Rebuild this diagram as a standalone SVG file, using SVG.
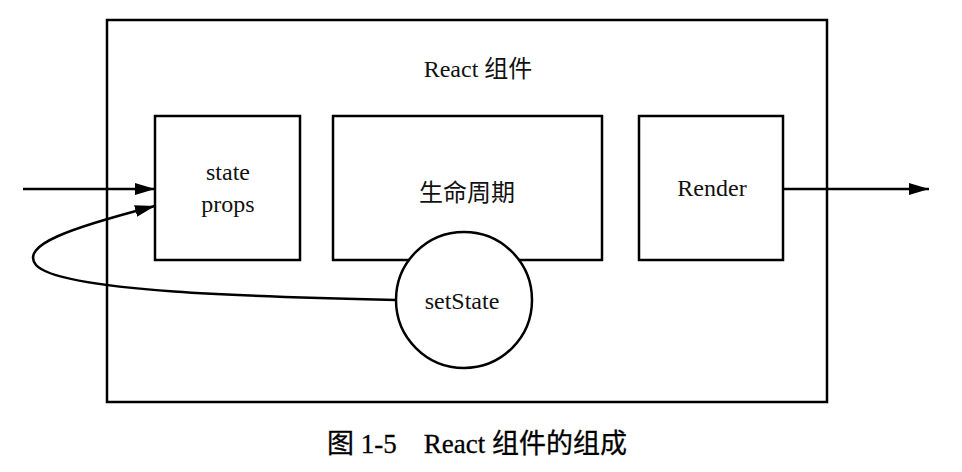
<svg xmlns="http://www.w3.org/2000/svg" width="962" height="472" viewBox="0 0 962 472">
<defs>
<marker id="arrB" viewBox="0 0 20 12" refX="20" refY="6" markerWidth="20" markerHeight="12" markerUnits="userSpaceOnUse" orient="auto">
<path d="M0,0 L20,6 L0,12 Z" fill="#000"/>
</marker>
</defs>
<style>
.box{fill:#fff;stroke:#000;stroke-width:2.5}
.t{font-family:"Liberation Serif","Noto Sans CJK SC",serif;font-size:24px;fill:#111;text-anchor:middle}
.cap{font-size:27px;fill:#000;stroke:#000;stroke-width:0.3}
.c{fill:none;stroke:#000;stroke-width:2.5}
</style>
<rect width="962" height="472" fill="#fff"/>
<g id="react-component">
<rect class="box" x="107" y="20" width="720" height="382"/>
<text class="t" x="478" y="77">React 组件</text>
</g>
<g id="connectors">
<line class="c" x1="23" y1="189" x2="155" y2="189" marker-end="url(#arrB)"/>
<path class="c" d="M396,300 C 260,297 60,292 36,265 C 20,245 70,228 155,206" marker-end="url(#arrB)"/>
<line class="c" x1="783" y1="189" x2="929" y2="189" marker-end="url(#arrB)"/>
</g>
<g id="state-props">
<rect class="box" x="155" y="116" width="145" height="144"/>
<text class="t" x="228" y="180">state</text>
<text class="t" x="228" y="212">props</text>
</g>
<g id="lifecycle">
<rect class="box" x="333" y="116" width="269" height="144"/>
<text class="t" x="467" y="201">生命周期</text>
</g>
<g id="render">
<rect class="box" x="639" y="116" width="144" height="144"/>
<text class="t" x="712" y="196">Render</text>
</g>
<g id="setstate">
<circle class="box" cx="464" cy="300" r="68"/>
<text class="t" x="462" y="309">setState</text>
</g>
<text class="t cap" x="477" y="453" xml:space="preserve">图 1-5    React 组件的组成</text>
</svg>
